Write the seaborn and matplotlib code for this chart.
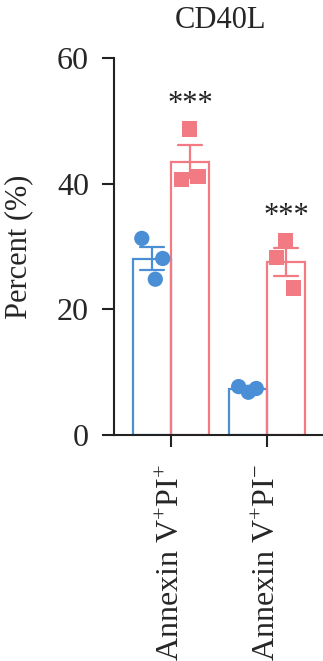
import numpy as np
import pandas as pd
import matplotlib
matplotlib.use("Agg")
import matplotlib.pyplot as plt
import seaborn as sns

sns.set_style("ticks")
plt.rcParams["font.family"] = ["Liberation Serif", "DejaVu Serif"]
plt.rcParams["mathtext.fontset"] = "custom"
plt.rcParams["mathtext.rm"] = "Liberation Serif"
plt.rcParams["mathtext.it"] = "Liberation Serif:italic"

# ---- data ----
categories = [r"Annexin V$^{+}$PI$^{+}$", r"Annexin V$^{+}$PI$^{-}$"]
conditions = ["Control", "CD40L"]
blue_pos_pos = [24.8, 31.3, 28.1]
pink_pos_pos = [40.7, 48.7, 41.2]
blue_pos_neg = [7.7, 6.8, 7.4]
pink_pos_neg = [30.9, 23.4, 28.3]
stars = ["***", "***"]
title = "CD40L"
ylabel = "Percent (%)"
yticks = [0, 20, 40, 60]

colors = {"Control": "#4A8FD6", "CD40L": "#F27A82"}

rows = []
for cat, vals_b, vals_p in [(categories[0], blue_pos_pos, pink_pos_pos),
                            (categories[1], blue_pos_neg, pink_pos_neg)]:
    for v in vals_b:
        rows.append((cat, "Control", v))
    for v in vals_p:
        rows.append((cat, "CD40L", v))
df = pd.DataFrame(rows, columns=["group", "condition", "value"])

# choose a jitter seed that spreads each triplet of points evenly
jlim = 0.12
seed = 0
best = -1
for s in range(60000):
    np.random.seed(s)
    d = np.random.uniform(-jlim, jlim, 12).reshape(4, 3)
    score = min(np.diff(np.sort(t)).min() for t in d)
    if score > best:
        best = score
        seed = s

fig = plt.figure(figsize=(3.23, 6.61), dpi=100)
ax = fig.add_axes([0.353, 0.342, 0.66, 0.570])

sns.barplot(data=df, x="group", y="value", hue="condition", order=categories,
            hue_order=conditions, palette=colors, fill=False, width=0.8,
            gap=0.0, errorbar="se", capsize=0.5, err_kws={"linewidth": 1.6},
            linewidth=1.6, ax=ax, legend=False)

np.random.seed(seed)
for cond, mk in [("Control", "o"), ("CD40L", "s")]:
    sub = df[df["condition"] == cond]
    sns.stripplot(data=sub, x="group", y="value", hue="condition", order=categories,
                  hue_order=conditions, palette=colors, dodge=True, jitter=2 * jlim,
                  marker=mk, size=11, linewidth=0, ax=ax, legend=False, zorder=3)

# significance stars above second condition bars
means = df.groupby(["group", "condition"])["value"].agg(["mean", "sem"])
for i, cat in enumerate(categories):
    m = means.loc[(cat, "CD40L")]
    top = max(df[(df.group == cat) & (df.condition == "CD40L")]["value"].max(), m["mean"] + m["sem"])
    ax.annotate(stars[i], xy=(i + 0.2, top), xytext=(0, 7), textcoords="offset points",
                ha="center", va="bottom", fontsize=22, color="#222222")

ax.set_ylim(0, 60)
ax.set_xlim(-0.596, 1.628)
ax.set_yticks(yticks)
ax.set_yticklabels([str(t) for t in yticks], fontsize=23)
ax.set_xticks(range(len(categories)))
ax.set_xticklabels(categories, rotation=90, fontsize=23)
ax.set_xlabel("")
ax.set_ylabel(ylabel, fontsize=22, labelpad=17)
ax.set_title(title, fontsize=22, pad=22)

for s in ["top", "right"]:
    ax.spines[s].set_visible(False)
for s in ["left", "bottom"]:
    ax.spines[s].set_linewidth(1.5)
    ax.spines[s].set_color("#222222")
ax.tick_params(axis="both", length=8.5, width=1.5, color="#222222")
ax.tick_params(axis="y", pad=9.5)
ax.tick_params(axis="x", pad=12)

fig.savefig("out.png", dpi=100)
